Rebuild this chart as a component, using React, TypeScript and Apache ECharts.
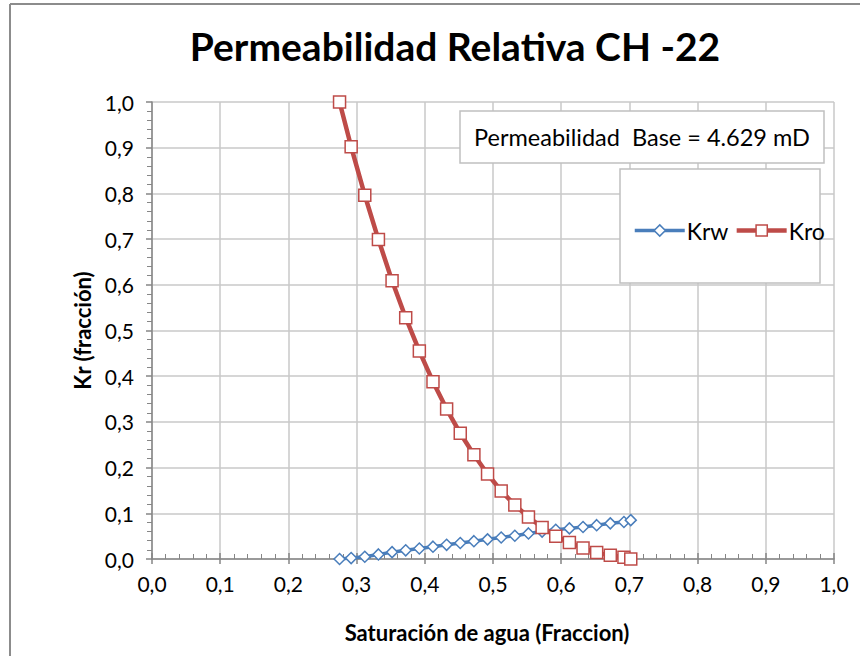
import React, { useEffect, useRef } from "react";
import * as echarts from "echarts";

const swValues = [0.275, 0.292, 0.312, 0.332, 0.352, 0.372, 0.392, 0.412, 0.432, 0.452, 0.472, 0.492, 0.512, 0.532, 0.552, 0.572, 0.592, 0.612, 0.632, 0.652, 0.672, 0.692, 0.702];
const krwValues = [0.0, 0.002, 0.005, 0.01, 0.015, 0.019, 0.023, 0.027, 0.031, 0.035, 0.039, 0.043, 0.047, 0.051, 0.056, 0.06, 0.064, 0.067, 0.07, 0.074, 0.078, 0.081, 0.085];
const kroValues = [1.0, 0.902, 0.796, 0.699, 0.609, 0.528, 0.455, 0.388, 0.328, 0.275, 0.228, 0.186, 0.149, 0.118, 0.092, 0.069, 0.05, 0.036, 0.024, 0.014, 0.008, 0.004, 0.0];
const seriesNames = ["Krw", "Kro"];
const titleText = "Permeabilidad Relativa CH -22";
const baseText = "Permeabilidad  Base = 4.629 mD";
const xAxisName = "Saturación de agua (Fraccion)";
const yAxisName = "Kr (fracción)";

const FONT = "Lato";
const BLUE = "#4a7ebb";
const RED = "#be4b48";
const fmt = (v: number) => v.toFixed(1).replace(".", ",");

export default function App() {
  const ref = useRef<HTMLDivElement>(null);
  useEffect(() => {
    if (!ref.current) return;
    const chart = echarts.init(ref.current, undefined, { renderer: "svg" });
    const gridCfg = { left: 152, right: 26, top: 102, bottom: 97, containLabel: false };
    const baseAxis = {
      type: "value" as const,
      min: 0,
      max: 1,
      interval: 0.1,
    };
    chart.setOption({
      animation: false,
      backgroundColor: "#ffffff",
      textStyle: { fontFamily: FONT },
      grid: gridCfg,
      xAxis: [
        {
          ...baseAxis,
          position: "bottom",
          name: xAxisName,
          nameLocation: "middle",
          nameGap: 62,
          nameTextStyle: { fontFamily: FONT, fontSize: 22, fontWeight: "bold", color: "#000", padding: [0, 12, 0, 0] },
          axisLine: { show: true, onZero: false, lineStyle: { color: "#868686", width: 1.5 } },
          axisTick: { show: true, inside: true, length: 6, lineStyle: { color: "#868686", width: 1.5 } },
          minorTick: { show: true, splitNumber: 5, length: 5, lineStyle: { color: "#868686", width: 1 } },
          axisLabel: { formatter: fmt, fontFamily: FONT, fontSize: 21, color: "#000", margin: 14 },
          splitLine: { show: true, lineStyle: { color: "#c8c8c8", width: 1.5 } },
        },
        {
          ...baseAxis,
          position: "bottom",
          axisLine: { show: false },
          axisTick: { show: true, inside: false, length: 5, lineStyle: { color: "#868686", width: 1.5 } },
          axisLabel: { show: false },
          splitLine: { show: false },
        },
      ],
      yAxis: [
        {
          ...baseAxis,
          position: "left",
          name: yAxisName,
          nameLocation: "middle",
          nameGap: 56,
          nameTextStyle: { fontFamily: FONT, fontSize: 22, fontWeight: "bold", color: "#000" },
          axisLine: { show: true, onZero: false, lineStyle: { color: "#868686", width: 1.5 } },
          axisTick: { show: true, inside: false, length: 6, lineStyle: { color: "#868686", width: 1.5 } },
          minorTick: { show: true, splitNumber: 5, length: 5, lineStyle: { color: "#868686", width: 1 } },
          axisLabel: { formatter: fmt, fontFamily: FONT, fontSize: 21, color: "#000", margin: 18 },
          splitLine: { show: true, lineStyle: { color: "#c8c8c8", width: 1.5 } },
        },
      ],
      legend: {
        show: true,
        left: 628,
        top: 214,
        itemWidth: 50,
        itemHeight: 14,
        itemGap: 6,
        z: 6,
        textStyle: { fontFamily: FONT, fontSize: 23, color: "#000", padding: [0, 0, 0, -3] },
        data: [
          { name: seriesNames[0], lineStyle: { width: 3.5, color: BLUE }, itemStyle: { color: "#fff", borderColor: BLUE, borderWidth: 1.5 } },
          { name: seriesNames[1], lineStyle: { width: 4.5, color: RED }, itemStyle: { color: "#fff", borderColor: RED, borderWidth: 1.5 } },
        ],
      },
      graphic: [
        { type: "line", z: 10, shape: { x1: 10, y1: 4, x2: 860, y2: 4 }, style: { stroke: "#8c8c8c", lineWidth: 2 } },
        { type: "line", z: 10, shape: { x1: 10, y1: 4, x2: 10, y2: 656 }, style: { stroke: "#8c8c8c", lineWidth: 2 } },
        {
          type: "text",
          z: 10,
          x: 455,
          y: 46,
          style: { text: titleText, fontFamily: FONT, fontSize: 39, fontWeight: "bold", fill: "#000", textAlign: "center", textVerticalAlign: "middle" },
        },
        { type: "rect", z: 3, shape: { x: 460, y: 111, width: 364, height: 52 }, style: { fill: "#fff", stroke: "#c0c0c0", lineWidth: 1.5 } },
        {
          type: "text",
          z: 4,
          x: 642,
          y: 137,
          style: { text: baseText, fontFamily: FONT, fontSize: 23.5, fill: "#000", textAlign: "center", textVerticalAlign: "middle" },
        },
        { type: "rect", z: 3, shape: { x: 620, y: 169, width: 200, height: 114 }, style: { fill: "#fff", stroke: "#c0c0c0", lineWidth: 1.5 } },
      ],
      series: [
        {
          name: seriesNames[0],
          type: "line",
          xAxisIndex: 0,
          yAxisIndex: 0,
          data: swValues.map((x, i) => [x, krwValues[i]]),
          symbol: "diamond",
          symbolSize: 11,
          showAllSymbol: true,
          lineStyle: { color: BLUE, width: 3.5 },
          itemStyle: { color: "#ffffff", borderColor: BLUE, borderWidth: 1.5 },
          z: 3,
        },
        {
          name: seriesNames[1],
          type: "line",
          xAxisIndex: 0,
          yAxisIndex: 0,
          data: swValues.map((x, i) => [x, kroValues[i]]),
          symbol: "rect",
          symbolSize: 12,
          showAllSymbol: true,
          lineStyle: { color: RED, width: 4.5 },
          itemStyle: { color: "#ffffff", borderColor: RED, borderWidth: 1.5 },
          z: 4,
        },
      ],
    });
    return () => chart.dispose();
  }, []);
  return (
    <div
      ref={ref}
      style={{ position: "fixed", left: 0, top: 0, width: 860, height: 656, background: "#fff" }}
    />
  );
}
